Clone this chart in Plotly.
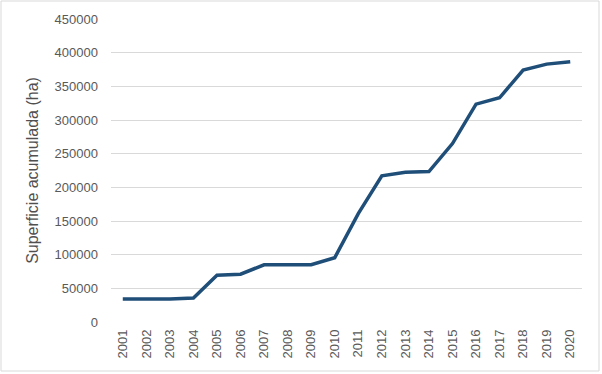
import plotly.graph_objects as go

years = [str(y) for y in range(2001, 2021)]
superficie = [34000, 34000, 34000, 35500, 69500, 71000, 85000, 85000, 85000, 95500,
              161000, 217000, 222500, 223500, 265000, 323500, 333000, 374000, 383000, 386500]
y_ticks = [0, 50000, 100000, 150000, 200000, 250000, 300000, 350000, 400000, 450000]

W, H = 602, 374
L, R, T, B = 111, 20, 19, 52
pw, ph = W - L - R, H - T - B

fig = go.Figure(go.Scatter(
    x=years, y=superficie, mode="lines",
    line=dict(color="#1F4E79", width=3.5),
    hoverinfo="x+y", showlegend=False,
))

grid = "#D9D9D9"
txt = "#595959"
fig.update_layout(
    width=W, height=H,
    margin=dict(l=L, r=R, t=T, b=B, autoexpand=False),
    paper_bgcolor="white", plot_bgcolor="white",
    font=dict(family="Liberation Sans, Arial, sans-serif", color=txt, size=13),
    xaxis=dict(
        type="category", range=[-0.5, 19.5], tickangle=-90, automargin=False,
        showgrid=False, zeroline=False, showline=False,
        ticks="", tickfont=dict(size=13, color=txt), ticklabelstandoff=4,
    ),
    yaxis=dict(
        range=[0, 450000], tickvals=y_ticks, ticktext=[str(v) for v in y_ticks],
        automargin=False,
        showgrid=True, gridcolor=grid, gridwidth=1.3, zeroline=False, showline=False,
        ticks="", tickfont=dict(size=13, color=txt), ticklabelstandoff=12,
        title=dict(text="Superficie acumulada (ha)", font=dict(size=16, color="#505050"), standoff=12),
    ),
    shapes=[dict(
        type="rect", xref="paper", yref="paper",
        x0=(1 - L) / pw, x1=(599 - L) / pw,
        y0=(H - B - 371) / ph, y1=(H - B - 1) / ph,
        line=dict(color=grid, width=1), fillcolor="rgba(0,0,0,0)", layer="below",
    )],
)

fig.write_html("out.html", config={"displayModeBar": False},
               post_script="document.body.style.margin='0';document.body.style.overflow='hidden';")
